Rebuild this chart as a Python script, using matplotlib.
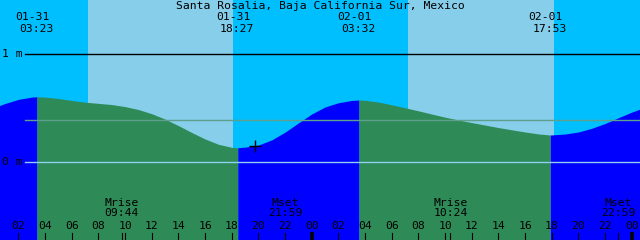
import numpy as np
import matplotlib
matplotlib.use('Agg')
import matplotlib.pyplot as plt

# tide height (m), hourly from 01-31 00:00
hours = list(range(0, 50))
height = [0.500, 0.545, 0.583, 0.604, 0.604, 0.591, 0.573, 0.557, 0.546, 0.535,
          0.516, 0.489, 0.450, 0.400, 0.340, 0.276, 0.216, 0.167, 0.139, 0.141,
          0.160, 0.208, 0.280, 0.365, 0.448, 0.513, 0.552, 0.573, 0.574, 0.558,
          0.533, 0.505, 0.477, 0.447, 0.418, 0.392, 0.368, 0.345, 0.322, 0.301,
          0.281, 0.263, 0.254, 0.262, 0.281, 0.315, 0.360, 0.413, 0.465, 0.510]

# high / low tides
tide_hours = [3 + 23/60, 18 + 27/60, 24 + 3 + 32/60, 24 + 17 + 53/60]
tide_heights = [0.607, 0.135, 0.577, 0.253]
tide_dates = ['01-31', '01-31', '02-01', '02-01']
tide_times = ['03:23', '18:27', '03:32', '17:53']

# moon events
moon_hours = [9 + 44/60, 21 + 59/60, 24 + 10 + 24/60, 24 + 22 + 59/60]
moon_names = ['Mrise', 'Mset', 'Mrise', 'Mset']
moon_times = ['09:44', '21:59', '10:24', '22:59']

# daylight
sunrise = [7.215, 31.215]
sunset = [18.09, 42.17]

now_hour = 19.74
mean_level = 0.389
title = 'Santa Rosalia, Baja California Sur, Mexico'

# pixel scale of the picture: 13.333 px per hour, 108 px per metre
t0, t1 = 0.615, 48.615
y0, y1 = -0.719, 1.503
px_h = 48 / 640
px_m = (y1 - y0) / 240

t = np.array(hours + tide_hours, dtype=float)
h = np.array(height + tide_heights, dtype=float)
order = np.argsort(t)
t, h = t[order], h[order]

fig = plt.figure(figsize=(6.4, 2.4), dpi=100)
ax = fig.add_axes([0, 0, 1, 1])
ax.set_xlim(t0, t1)
ax.set_ylim(y0, y1)
ax.axis('off')

mono = 'DejaVu Sans Mono'
fs = 8.2

# sky
ax.axvspan(t0 - 1, t1 + 1, color='#00BFFF', zorder=0, lw=0)
for a, b in zip(sunrise, sunset):
    ax.axvspan(a, b, color='#87CEEB', zorder=0, lw=0)

# water, blue while rising, green while falling
bounds = [t[0]] + tide_hours + [t[-1]]
for i in range(len(bounds) - 1):
    m = (t >= bounds[i]) & (t <= bounds[i + 1])
    col = '#0000FF' if i % 2 == 0 else '#2E8B57'
    ax.fill_between(t[m], y0, h[m], color=col, lw=0, zorder=1)

# level lines
x_line = t0 + 25 * px_h
ax.plot([x_line, t1], [1, 1], color='black', lw=1.0, zorder=2)
ax.plot([x_line, t1], [mean_level, mean_level], color='#5E9F8E', lw=1.0, zorder=2)
ax.plot([x_line, t1], [0, 0], color='#8FCFEF', lw=1.0, zorder=2)
yt = ax.get_yaxis_transform()
ax.text(2 / 640, 1, '1 m', transform=yt, family=mono, fontsize=fs, va='center', ha='left')
ax.text(2 / 640, 0, '0 m', transform=yt, family=mono, fontsize=fs, va='center', ha='left')

# now marker
ax.plot([now_hour], [np.interp(now_hour, t, h)], marker='+', color='black',
        ms=8, mew=1.0, zorder=3)

# title and tide labels
ax.text((t0 + t1) / 2, y1 - 6 * px_m, title, family=mono, fontsize=fs,
        ha='center', va='center')
for th, d, s in zip(tide_hours, tide_dates, tide_times):
    ax.text(th - 4.5 * px_h, y1 - 17 * px_m, d, family=mono, fontsize=fs,
            ha='center', va='center')
    ax.text(th - 0.5 * px_h, y1 - 29.5 * px_m, s, family=mono, fontsize=fs,
            ha='center', va='center')

# moon labels
for mh, n, s in zip(moon_hours, moon_names, moon_times):
    ax.text(mh, y1 - 202.5 * px_m, n, family=mono, fontsize=fs, ha='center', va='center')
    ax.text(mh, y1 - 212.5 * px_m, s, family=mono, fontsize=fs, ha='center', va='center')

# hour ticks and labels
for hr in range(2, 50, 2):
    if hr % 24 == 0:
        ax.plot([hr, hr], [y1 - 232 * px_m, y0], color='black', lw=2.6, zorder=3,
                solid_capstyle='butt')
    else:
        ax.plot([hr, hr], [y1 - 233 * px_m, y0], color='black', lw=0.8, zorder=3)
    ax.text(hr, y1 - 226 * px_m, '%02d' % (hr % 24), family=mono, fontsize=fs,
            ha='center', va='center')
for mh in moon_hours:
    ax.plot([mh, mh], [y1 - 233 * px_m, y0], color='black', lw=0.8, zorder=3)

fig.savefig('out.png', dpi=100)
